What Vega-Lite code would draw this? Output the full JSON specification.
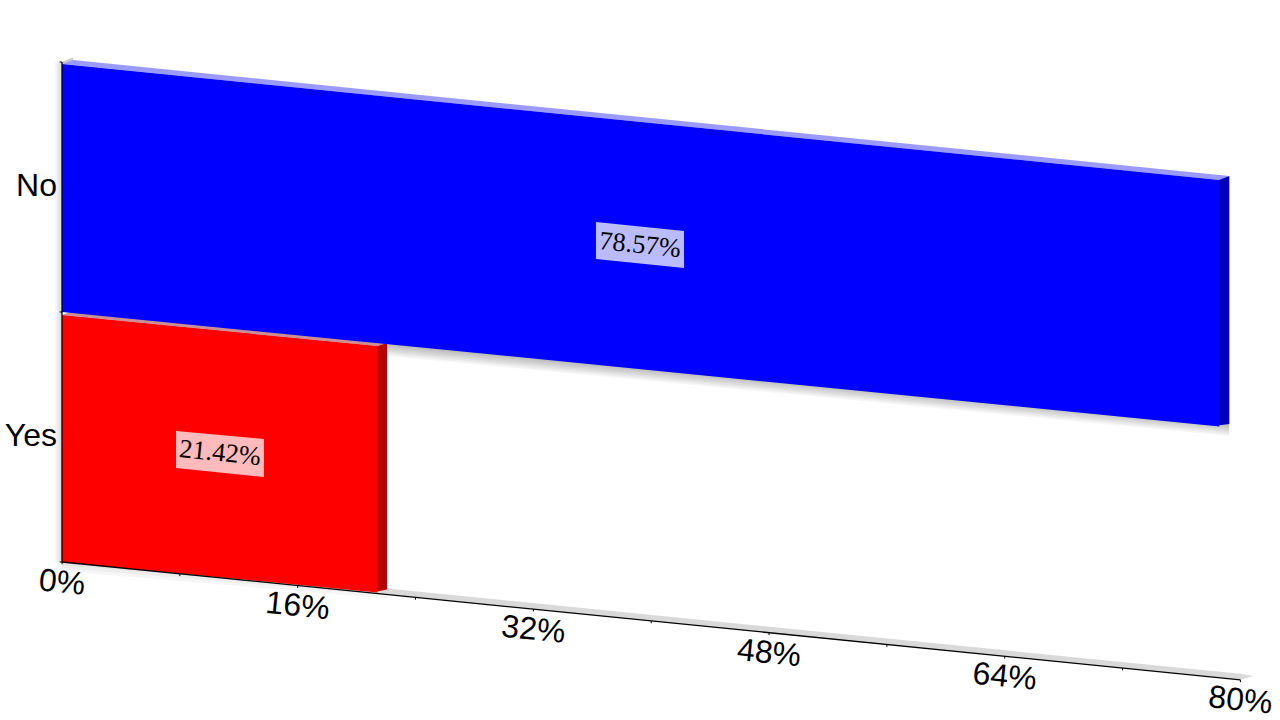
{
"$schema":"https://vega.github.io/schema/vega-lite/v6.json",
"width":1280,"height":720,"autosize":{"type":"fit","contains":"padding"},
"background":"white","padding":0,
"config":{"view":{"stroke":null}},
"datasets":{
"shadow":[
{"s":"w1","p":-0.12,"hi":2,"lo":0},{"s":"w1","p":0,"hi":2,"lo":0},
{"s":"w2","p":-0.24,"hi":2,"lo":0},{"s":"w2","p":0,"hi":2,"lo":0},
{"s":"w3","p":-0.36,"hi":2,"lo":0},{"s":"w3","p":0,"hi":2,"lo":0},
{"s":"w4","p":-0.48,"hi":2,"lo":0},{"s":"w4","p":0,"hi":2,"lo":0},
{"s":"r1","p":0,"hi":0.01,"lo":-0.012},{"s":"r1","p":22.07,"hi":-0.11,"lo":-0.122},
{"s":"r2","p":0,"hi":0.01,"lo":-0.024},{"s":"r2","p":22.07,"hi":-0.11,"lo":-0.134},
{"s":"r3","p":0,"hi":0.01,"lo":-0.036},{"s":"r3","p":22.07,"hi":-0.11,"lo":-0.146},
{"s":"b1","p":22.07,"hi":0.89,"lo":0.866},{"s":"b1","p":79.25,"hi":0.563,"lo":0.546},
{"s":"b2","p":22.07,"hi":0.89,"lo":0.86},{"s":"b2","p":79.25,"hi":0.563,"lo":0.54},
{"s":"b3","p":22.07,"hi":0.89,"lo":0.854},{"s":"b3","p":79.25,"hi":0.563,"lo":0.534},
{"s":"b4","p":22.07,"hi":0.89,"lo":0.848},{"s":"b4","p":79.25,"hi":0.563,"lo":0.528},
{"s":"b5","p":22.07,"hi":0.89,"lo":0.842},{"s":"b5","p":79.25,"hi":0.563,"lo":0.522},
{"s":"b6","p":22.07,"hi":0.89,"lo":0.836},{"s":"b6","p":79.25,"hi":0.563,"lo":0.516},
{"s":"b7","p":22.07,"hi":0.89,"lo":0.83},{"s":"b7","p":79.25,"hi":0.563,"lo":0.51},
{"s":"b8","p":22.07,"hi":0.89,"lo":0.824},{"s":"b8","p":79.25,"hi":0.563,"lo":0.504}
],
"faces":[
{"part":"floor","p":0,"hi":0,"lo":0},{"part":"floor","p":0.75,"hi":0.0196,"lo":-0.0044},{"part":"floor","p":80,"hi":-0.4474,"lo":-0.4714},{"part":"floor","p":80.9,"hi":-0.456,"lo":-0.456},
{"part":"wallTop","p":0,"hi":2.0,"lo":1.992},{"part":"wallTop","p":0.75,"hi":2.0176,"lo":2.0076},
{"part":"redTop","p":0,"hi":0.988,"lo":0.988},{"part":"redTop","p":0.75,"hi":1.0036,"lo":0.9836},{"part":"redTop","p":21.42,"hi":0.8818,"lo":0.8638},{"part":"redTop","p":22.07,"hi":0.876,"lo":0.876},
{"part":"redSide","p":21.3,"hi":0.862,"lo":-0.119},{"part":"redSide","p":22.07,"hi":0.876,"lo":-0.11},
{"part":"redFront","p":0,"hi":0.988,"lo":0},{"part":"redFront","p":21.42,"hi":0.8638,"lo":-0.1222},
{"part":"blueTop","p":0,"hi":1.992,"lo":1.992},{"part":"blueTop","p":0.75,"hi":2.0076,"lo":1.9876},{"part":"blueTop","p":78.57,"hi":1.5481,"lo":1.5281},{"part":"blueTop","p":79.25,"hi":1.5441,"lo":1.5441},
{"part":"blueSide","p":78.45,"hi":1.526,"lo":0.546},{"part":"blueSide","p":79.25,"hi":1.5441,"lo":0.5521},
{"part":"blueFront","p":0,"hi":1.992,"lo":1.0},{"part":"blueFront","p":78.57,"hi":1.5281,"lo":0.5421},
{"part":"blueLabel","p":36.25,"hi":1.3604,"lo":1.2124},{"part":"blueLabel","p":42.23,"hi":1.3242,"lo":1.1762},
{"part":"redLabel","p":7.74,"hi":0.5244,"lo":0.3764},{"part":"redLabel","p":13.71,"hi":0.4922,"lo":0.3402}
],
"axisLine":[{"p":0,"l":0},{"p":80,"l":-0.4714}],
"wallLine":[{"p":0,"a":0,"b":2}],
"xTicks":[{"p":0,"l":0},{"p":8,"l":-0.0471},{"p":16,"l":-0.0943},{"p":24,"l":-0.1414},{"p":32,"l":-0.1885},{"p":40,"l":-0.2357},{"p":48,"l":-0.2828},{"p":56,"l":-0.33},{"p":64,"l":-0.3771},{"p":72,"l":-0.4242},{"p":80,"l":-0.4714}],
"yTicks":[{"l":0},{"l":1},{"l":2}],
"xLabels":[{"p":0,"l":-0.082,"t":"0%"},{"p":16,"l":-0.1763,"t":"16%"},{"p":32,"l":-0.2705,"t":"32%"},{"p":48,"l":-0.3648,"t":"48%"},{"p":64,"l":-0.4591,"t":"64%"},{"p":80,"l":-0.5534,"t":"80%"}],
"yLabels":[{"l":1.506,"t":"No"},{"l":0.506,"t":"Yes"}],
"values":[{"p":39.24,"l":1.2678,"t":"78.57%"},{"p":10.73,"l":0.4358,"t":"21.42%"}]
},
"layer":[
{"data":{"name":"shadow"},"mark":{"type":"area","color":"#000000","opacity":0.035},
 "encoding":{"x":{"field":"p","type":"quantitative","scale":{"domain":[-4.209,82.69],"nice":false,"zero":false},"axis":null},
 "y":{"field":"hi","type":"quantitative","scale":{"domain":[-0.632,2.248],"nice":false,"zero":false},"axis":null,"stack":null},
 "y2":{"field":"lo"},"detail":{"field":"s"}}},
{"data":{"name":"faces"},"mark":{"type":"area","opacity":1},
 "encoding":{"x":{"field":"p","type":"quantitative","axis":null},
 "y":{"field":"hi","type":"quantitative","axis":null,"stack":null},
 "y2":{"field":"lo"},
 "color":{"field":"part","type":"nominal","legend":null,"sort":null,"scale":{
 "domain":["floor","wallTop","redTop","redSide","redFront","blueTop","blueSide","blueFront","blueLabel","redLabel"],
 "range":["#d9d9d9","#c8c8c8","#c89096","#b80000","#ff0000","#9a9aff","#0000b8","#0000ff","#bbbbff","#ffbbbb"]}}}},
{"data":{"name":"axisLine"},"mark":{"type":"line","color":"#000000","strokeWidth":1.3},
 "encoding":{"x":{"field":"p","type":"quantitative","axis":null},"y":{"field":"l","type":"quantitative","axis":null}}},
{"data":{"name":"wallLine"},"mark":{"type":"rule","color":"#000000","strokeWidth":1.3},
 "encoding":{"x":{"field":"p","type":"quantitative","axis":null},"y":{"field":"a","type":"quantitative","axis":null},"y2":{"field":"b"}}},
{"data":{"name":"xTicks"},"mark":{"type":"point","shape":"M0,0V1","size":22,"filled":false,"color":"#000000","strokeWidth":1,"opacity":1},
 "encoding":{"x":{"field":"p","type":"quantitative","axis":null},"y":{"field":"l","type":"quantitative","axis":null}}},
{"data":{"name":"yTicks"},"mark":{"type":"point","shape":"M-1,0H0","size":22,"filled":false,"color":"#000000","strokeWidth":1,"opacity":1},
 "encoding":{"x":{"datum":0,"type":"quantitative","axis":null},"y":{"field":"l","type":"quantitative","axis":null}}},
{"data":{"name":"xLabels"},"mark":{"type":"text","font":"Liberation Sans","fontSize":32,"color":"#000000","angle":5.7,"align":"center","baseline":"middle"},
 "encoding":{"x":{"field":"p","type":"quantitative","axis":null},"y":{"field":"l","type":"quantitative","axis":null},"text":{"field":"t"}}},
{"data":{"name":"yLabels"},"mark":{"type":"text","font":"Liberation Sans","fontSize":32,"color":"#000000","align":"right","baseline":"middle"},
 "encoding":{"x":{"datum":-0.34,"type":"quantitative","axis":null},"y":{"field":"l","type":"quantitative","axis":null},"text":{"field":"t"}}},
{"data":{"name":"values"},"mark":{"type":"text","font":"Liberation Serif","fontSize":26.5,"color":"#000000","angle":5.7,"align":"center","baseline":"middle"},
 "encoding":{"x":{"field":"p","type":"quantitative","axis":null},"y":{"field":"l","type":"quantitative","axis":null},"text":{"field":"t"}}}
],
"resolve":{"scale":{"x":"shared","y":"shared"}}
}
